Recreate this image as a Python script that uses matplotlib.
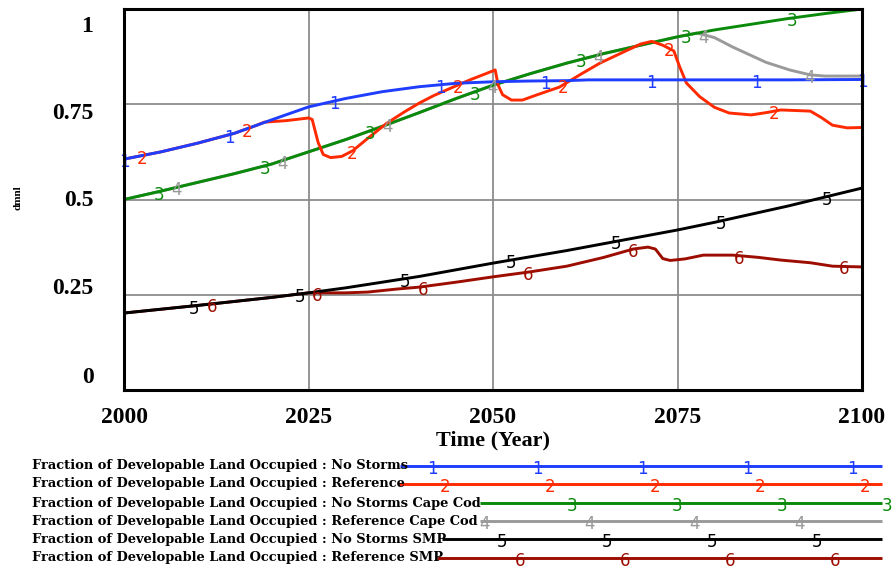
import numpy as np
import matplotlib
matplotlib.use("Agg")
from matplotlib import pyplot as plt
from matplotlib.transforms import ScaledTranslation

# ---- data ----
yr_blue = [2000, 2005, 2010, 2015, 2020, 2025, 2030, 2035, 2040, 2045, 2050, 2055, 2060, 2063, 2070, 2080, 2090, 2100]
no_storms = [0.606, 0.625, 0.648, 0.674, 0.709, 0.743, 0.765, 0.783, 0.796, 0.805, 0.809, 0.811, 0.812, 0.814, 0.814, 0.814, 0.814, 0.815]

yr_red = [2000, 2005, 2010, 2015, 2018, 2019, 2022, 2025, 2025.5, 2026.3, 2027, 2028, 2029.5, 2031, 2033,
          2035.6, 2038, 2040, 2042, 2044.6, 2047, 2049, 2050.3, 2050.7, 2051.3, 2052.5, 2054, 2056, 2059,
          2062, 2064.5, 2068, 2070, 2071.5, 2073, 2074.5, 2075.3, 2076.2, 2078, 2080, 2082, 2085, 2087,
          2089, 2093, 2094.5, 2096, 2098, 2100]
reference = [0.606, 0.625, 0.648, 0.674, 0.695, 0.703, 0.707, 0.714, 0.71, 0.65, 0.618, 0.61, 0.613, 0.628, 0.66,
             0.70, 0.73, 0.753, 0.773, 0.795, 0.815, 0.83, 0.84, 0.80, 0.775, 0.761, 0.761, 0.775, 0.795,
             0.83, 0.858, 0.89, 0.908, 0.915, 0.905, 0.89, 0.848, 0.806, 0.77, 0.742, 0.727, 0.722, 0.728,
             0.735, 0.732, 0.715, 0.695, 0.688, 0.689]

yr_green = [2000, 2005, 2010, 2015, 2020, 2025, 2030, 2035, 2040, 2045, 2050, 2055, 2060, 2065, 2070, 2075,
            2080, 2085, 2090, 2095, 2100]
no_storms_cc = [0.5, 0.522, 0.545, 0.568, 0.593, 0.625, 0.657, 0.692, 0.728, 0.765, 0.80, 0.83, 0.858, 0.883,
                0.905, 0.927, 0.945, 0.96, 0.975, 0.988, 1.0]

yr_gray = [2000, 2005, 2010, 2015, 2020, 2025, 2030, 2035, 2040, 2045, 2050, 2055, 2060, 2065, 2070, 2075,
           2077.6, 2080, 2082.5, 2087, 2090.2, 2093, 2095, 2100]
reference_cc = [0.5, 0.522, 0.545, 0.568, 0.593, 0.625, 0.657, 0.692, 0.728, 0.765, 0.80, 0.83, 0.858, 0.883,
                0.905, 0.927, 0.937, 0.925, 0.90, 0.86, 0.84, 0.827, 0.824, 0.824]

yr_black = [2000, 2010, 2020, 2025, 2030, 2040, 2050, 2060, 2070, 2075, 2080, 2090, 2100]
no_storms_smp = [0.202, 0.222, 0.243, 0.255, 0.268, 0.298, 0.333, 0.366, 0.402, 0.42, 0.44, 0.483, 0.53]

yr_dred = [2000, 2010, 2020, 2025, 2030, 2033, 2037, 2040, 2045, 2050, 2055, 2060, 2065, 2069, 2071, 2072,
           2073, 2074, 2076, 2078.5, 2082.5, 2086, 2089, 2093, 2096, 2100]
reference_smp = [0.202, 0.222, 0.243, 0.255, 0.255, 0.257, 0.265, 0.27, 0.283, 0.297, 0.31, 0.325, 0.348, 0.37,
                 0.375, 0.37, 0.345, 0.34, 0.344, 0.354, 0.354, 0.348, 0.341, 0.334, 0.325, 0.323]

run_names = ['No Storms', 'Reference', 'No Storms Cape Cod', 'Reference Cape Cod', 'No Storms SMP', 'Reference SMP']
colors = ['#1f3dff', '#ff2a00', '#0a8a0a', '#9a9a9a', '#000000', '#9c0d00']
series = [(yr_blue, no_storms), (yr_red, reference), (yr_green, no_storms_cc),
          (yr_gray, reference_cc), (yr_black, no_storms_smp), (yr_dred, reference_smp)]

serif = 'Liberation Serif'

fig = plt.figure(figsize=(8.95, 5.71), dpi=100)
ax = fig.add_axes([124 / 895, 181 / 571, 738 / 895, 381 / 571])

# first run ends up on top, like in vensim
for i, (x, y) in enumerate(series):
    ax.plot(x, y, color=colors[i], lw=2.1, solid_capstyle='butt', zorder=10 - i)

# numbered markers along each line
for i, (x, y) in enumerate(series):
    t = 2000 + i * 100 / 42 + np.arange(0, 8) * 100 / 7
    t = t[t <= 2100.01]
    for tt in t:
        yy = np.interp(tt, x, y)
        ax.text(tt, yy, str(i + 1), color=colors[i], fontsize=12, ha='center', va='center',
                zorder=12, transform=ax.transData + ScaledTranslation(0, -3 / 100, fig.dpi_scale_trans))

ax.set_xlim(2000, 2100)
ax.set_ylim(0, 1)
ax.set_xticks([2000, 2025, 2050, 2075, 2100])
ax.set_yticks([0, 0.25, 0.5, 0.75, 1])
ax.set_yticklabels(['0', '0.25', '0.5', '0.75', '1'])
ax.grid(True, color='#8c8c8c', lw=1.3)
ax.set_axisbelow(True)
ax.tick_params(length=0, pad=12, labelsize=17)
ax.tick_params(axis='y', pad=22)
for lab in ax.get_xticklabels() + ax.get_yticklabels():
    lab.set_fontfamily(serif)
    lab.set_fontweight('bold')
# vensim squeezes the y labels toward the middle
for lab, dy in zip(ax.get_yticklabels(), [15, 9, 2, -7, -15]):
    lab.set_transform(lab.get_transform() + ScaledTranslation(0, dy / 100, fig.dpi_scale_trans))
for s in ax.spines.values():
    s.set_linewidth(2.2)
    s.set_color('black')
    s.set_zorder(20)

ax.set_xlabel('Time (Year)', fontfamily=serif, fontweight='bold', fontsize=16, labelpad=2)
fig.text(18 / 895, 1 - 198 / 571, 'dmnl', rotation=90, fontfamily=serif, fontweight='bold',
         fontsize=8, ha='center', va='center')

# legend drawn in pixel coordinates
lax = fig.add_axes([0, 0, 1, 1])
lax.set_xlim(0, 895)
lax.set_ylim(571, 0)
lax.axis('off')
row_y = [466, 484, 503, 521, 539, 558]
line_start = [400, 398, 480, 480, 442, 437]
first_mark = [432, 445, 467, 485, 502, 520]
for i, name in enumerate(run_names):
    lax.text(32, row_y[i], 'Fraction of Developable Land Occupied : ' + name, fontfamily='DejaVu Serif',
             fontweight='bold', fontsize=9.4, ha='left', va='center')
    lax.plot([line_start[i], 882], [row_y[i], row_y[i]], color=colors[i], lw=2.1, solid_capstyle='butt')
    for j in range(6):
        mx = first_mark[i] + 105 * j
        if line_start[i] < mx <= 890:
            lax.text(mx, row_y[i] + 3, str(i + 1), color=colors[i], fontsize=12, ha='center', va='center')

fig.savefig('out.png', dpi=100)
